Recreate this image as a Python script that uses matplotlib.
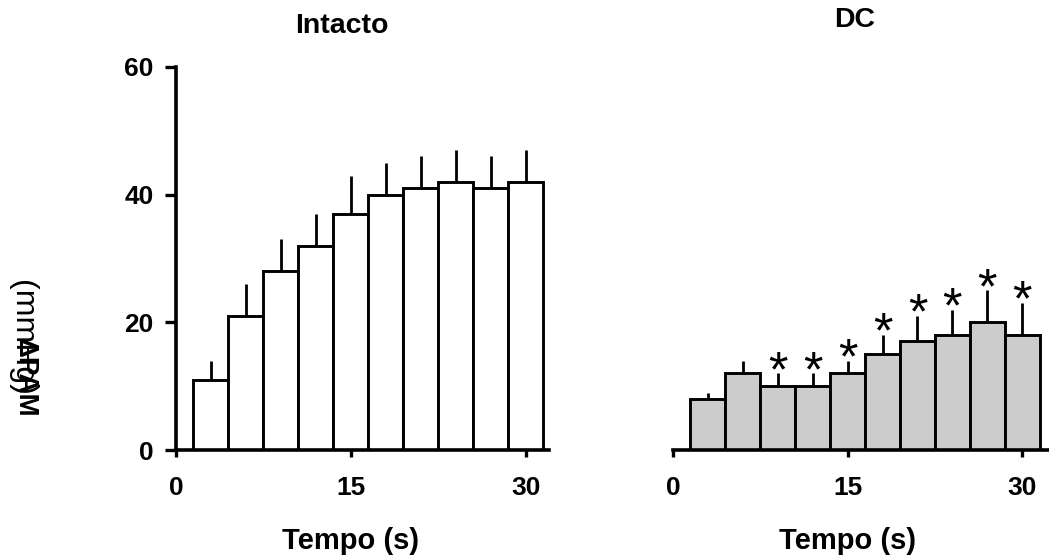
import matplotlib
matplotlib.use("Agg")
from matplotlib import pyplot as plt

plt.rcParams['font.family'] = ['Liberation Sans', 'DejaVu Sans']

tempo = [3, 6, 9, 12, 15, 18, 21, 24, 27, 30]
intacto = [11, 21, 28, 32, 37, 40, 41, 42, 41, 42]
intacto_err = [3, 5, 5, 5, 6, 5, 5, 5, 5, 5]
dc = [8, 12, 10, 10, 12, 15, 17, 18, 20, 18]
dc_err = [1, 2, 2, 2, 2, 3, 4, 4, 5, 5]
dc_sig = [False, False, True, True, True, True, True, True, True, True]

fig = plt.figure(figsize=(10.49, 5.56), dpi=100)
W, H = 1049, 556

def panel(left_px, right_px, xmax, vals, errs, color, title, title_x, title_y, show_y):
    ax = fig.add_axes([left_px / W, 1 - 450 / H, (right_px - left_px) / W, (450 - 67) / H])
    ax.bar(tempo, vals, width=3, color=color, edgecolor='black', linewidth=2.1, zorder=2)
    ax.errorbar(tempo, vals, yerr=[[0] * len(vals), errs], fmt='none',
                ecolor='black', elinewidth=2, capsize=0, zorder=1)
    ax.set_xlim(0, xmax)
    ax.set_ylim(0, 60)
    ax.set_xticks([0, 15, 30])
    for s in ['top', 'right']:
        ax.spines[s].set_visible(False)
    ax.spines['bottom'].set_linewidth(2.6)
    ax.spines['left'].set_linewidth(2.6)
    ax.spines['left'].set_bounds(0, 60)
    ax.tick_params(axis='x', length=5, width=2.4, pad=14, labelsize=19)
    for lab in ax.get_xticklabels():
        lab.set_fontweight('bold')
    if show_y:
        ax.set_yticks([0, 20, 40, 60])
        ax.tick_params(axis='y', length=8, width=2.4, pad=8, labelsize=19)
        for lab in ax.get_yticklabels():
            lab.set_fontweight('bold')
    else:
        ax.spines['left'].set_visible(False)
        ax.set_yticks([])
    ax.set_xlabel('Tempo (s)', fontsize=21, fontweight='bold', labelpad=19)
    ax.xaxis.label.set_x(15 / xmax)
    fig.text(title_x / W, 1 - title_y / H, title, fontsize=20.5, fontweight='bold',
             ha='center', va='center')
    return ax

ax1 = panel(176, 549, 32, intacto, intacto_err, 'white', 'Intacto', 342, 26, True)
ax2 = panel(673, 1049, 32.3, dc, dc_err, '#cccccc', 'DC', 855, 20, False)

for x, v, e, s in zip(tempo, dc, dc_err, dc_sig):
    if s:
        ax2.annotate('*', (x, v + e), xytext=(0, -9), textcoords='offset points',
                     ha='center', va='baseline', fontsize=36)

fig.text(22 / W, 1 - 280 / H, '(mmHg)', rotation=270, fontsize=23,
         ha='center', va='top')
fig.text(25 / W, 1 - 418 / H, 'ΔPAM', rotation=270, fontsize=20,
         fontweight='bold', ha='center', va='bottom')

fig.savefig('out.png', dpi=100)
